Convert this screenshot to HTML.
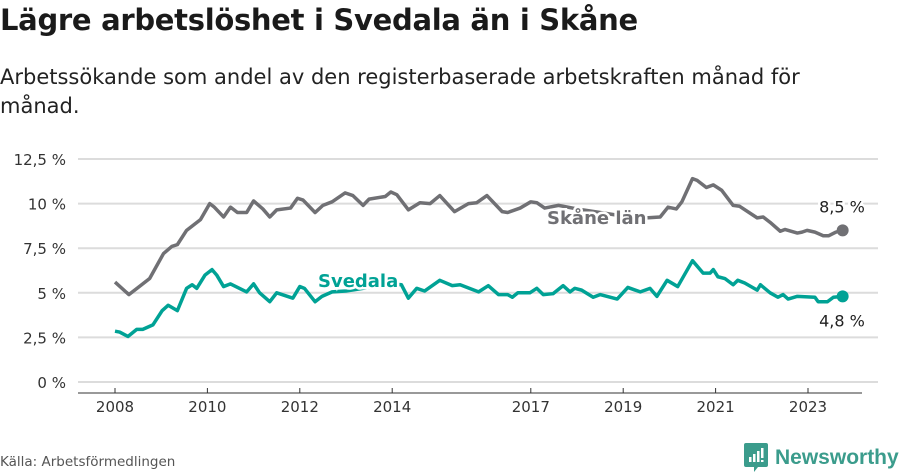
<!DOCTYPE html>
<html><head><meta charset="utf-8"><style>
body{margin:0;width:900px;height:474px;background:#fff;font-family:"DejaVu Sans","Liberation Sans",sans-serif;overflow:hidden;position:relative}
h1{position:absolute;left:0;top:3px;margin:0;font-size:29px;font-weight:bold;color:#1a1a1a;letter-spacing:-0.3px}
.sub{position:absolute;left:0;top:63px;font-size:21px;line-height:29px;color:#222;width:840px}
.src{position:absolute;left:0;top:454px;font-size:13.5px;color:#555}
.logo{position:absolute;left:744px;top:443px;display:flex;align-items:center;color:#3b9c8c;font-size:21px;font-weight:bold;font-family:"Liberation Sans",sans-serif}
svg{position:absolute;left:0;top:0}
</style></head><body>
<h1>Lägre arbetslöshet i Svedala än i Skåne</h1>
<div class="sub">Arbetssökande som andel av den registerbaserade arbetskraften månad för månad.</div>
<svg id="chart" width="900" height="474" font-family="DejaVu Sans, Liberation Sans, sans-serif"></svg>
<div class="src">Källa: Arbetsförmedlingen</div>
<div class="logo">
<svg style="position:static;margin-right:7px" width="24" height="30" viewBox="0 0 24 30"><path d="M2 0h20a2 2 0 0 1 2 2v20a2 2 0 0 1-2 2h-8l-4 5v-5H2a2 2 0 0 1-2-2V2a2 2 0 0 1 2-2z" fill="#3b9c8c"/><rect x="5" y="14" width="2.5" height="5" fill="#fff"/><rect x="9" y="11" width="2.5" height="8" fill="#fff"/><rect x="13" y="8" width="2.5" height="11" fill="#fff"/><rect x="17" y="5" width="2.5" height="10" fill="#fff"/><rect x="17" y="17" width="2.5" height="2" fill="#fff"/></svg>
<span>Newsworthy</span></div>
<script>
const yTicks=[0,2.5,5,7.5,10,12.5];
const yTickLabels=["0 %","2,5 %","5 %","7,5 %","10 %","12,5 %"];
const xTicks=[2008,2010,2012,2014,2017,2019,2021,2023];
const skaneDates=[2008.0,2008.3,2008.5,2008.75,2009.05,2009.23,2009.35,2009.55,2009.85,2010.05,2010.15,2010.35,2010.5,2010.65,2010.85,2011.0,2011.2,2011.35,2011.5,2011.8,2011.95,2012.07,2012.33,2012.5,2012.7,2012.98,2013.15,2013.37,2013.5,2013.85,2013.97,2014.1,2014.35,2014.6,2014.82,2015.03,2015.35,2015.65,2015.83,2016.05,2016.38,2016.5,2016.77,2017.0,2017.13,2017.3,2017.6,2018.0,2018.5,2019.0,2019.5,2019.8,2019.97,2020.15,2020.27,2020.5,2020.6,2020.8,2020.95,2021.13,2021.38,2021.52,2021.9,2022.03,2022.18,2022.4,2022.5,2022.77,2022.87,2022.98,2023.15,2023.33,2023.45,2023.6,2023.75];
const skaneValues=[5.6,4.9,5.3,5.8,7.2,7.6,7.7,8.5,9.1,10.0,9.8,9.25,9.8,9.5,9.5,10.15,9.7,9.25,9.65,9.75,10.3,10.2,9.5,9.9,10.1,10.6,10.45,9.9,10.25,10.4,10.65,10.5,9.65,10.05,10.0,10.45,9.55,10.0,10.05,10.45,9.55,9.5,9.75,10.1,10.05,9.75,9.9,9.7,9.5,9.3,9.2,9.25,9.8,9.7,10.1,11.4,11.3,10.9,11.05,10.75,9.9,9.85,9.2,9.25,8.95,8.45,8.55,8.35,8.4,8.5,8.4,8.2,8.2,8.4,8.5];
const svedalaDates=[2008.0,2008.1,2008.28,2008.47,2008.6,2008.82,2009.02,2009.15,2009.35,2009.55,2009.67,2009.77,2009.95,2010.1,2010.2,2010.35,2010.5,2010.85,2011.0,2011.13,2011.35,2011.5,2011.85,2012.0,2012.1,2012.33,2012.48,2012.7,2013.0,2013.5,2014.0,2014.2,2014.35,2014.53,2014.7,2015.03,2015.3,2015.47,2015.87,2016.08,2016.3,2016.5,2016.6,2016.72,2016.98,2017.13,2017.27,2017.48,2017.7,2017.85,2017.95,2018.1,2018.35,2018.5,2018.87,2019.1,2019.37,2019.58,2019.73,2019.95,2020.18,2020.5,2020.73,2020.88,2020.95,2021.05,2021.2,2021.38,2021.48,2021.63,2021.9,2021.97,2022.18,2022.35,2022.46,2022.57,2022.77,2023.15,2023.22,2023.42,2023.55,2023.75];
const svedalaValues=[2.85,2.8,2.55,2.95,2.95,3.2,4.0,4.3,4.0,5.25,5.45,5.25,6.0,6.3,6.0,5.35,5.5,5.05,5.5,5.0,4.5,5.0,4.7,5.35,5.25,4.5,4.8,5.05,5.1,5.3,5.5,5.45,4.7,5.25,5.1,5.7,5.4,5.45,5.05,5.4,4.9,4.9,4.75,5.0,5.0,5.25,4.9,4.95,5.4,5.05,5.25,5.15,4.75,4.9,4.65,5.3,5.05,5.25,4.8,5.7,5.35,6.8,6.1,6.1,6.3,5.9,5.8,5.45,5.7,5.55,5.15,5.45,5.0,4.75,4.9,4.65,4.8,4.75,4.5,4.5,4.75,4.8];
const NS="http://www.w3.org/2000/svg",svg=document.getElementById('chart');
const X=t=>115+(t-2008)*46.2, Y=v=>382-v*17.84;
function mk(tag,attrs,parent){const e=document.createElementNS(NS,tag);for(const k in attrs)e.setAttribute(k,attrs[k]);(parent||svg).appendChild(e);return e;}
yTicks.forEach((v,i)=>{
 const g=mk('line',{x1:78,x2:878,y1:Y(v),y2:Y(v),stroke:'#dcdcdc','stroke-width':2});
 
 
 const t=mk('text',{x:66,y:Y(v)+6,'text-anchor':'end','font-size':15,fill:'#333'});t.textContent=yTickLabels[i];
 
 
});
const ax=mk('line',{x1:78,x2:862,y1:393,y2:393,stroke:'#333','stroke-width':1});


xTicks.forEach(yr=>{
 const tk=mk('line',{x1:X(yr),x2:X(yr),y1:388,y2:393,stroke:'#333'});
 
 
 const t=mk('text',{x:X(yr),y:412,'text-anchor':'middle','font-size':15,fill:'#333'});t.textContent=yr;
 
 
});
function line(d,v,col,name){
 const p=mk('polyline',{points:d.map((t,i)=>X(t)+','+Y(v[i])).join(' '),fill:'none',stroke:col,'stroke-width':3.5,'stroke-linejoin':'round'});
 
 
 const n=d.length-1;
 const c=mk('circle',{cx:X(d[n]),cy:Y(v[n]),r:6,fill:col});
 
 
}
line(skaneDates,skaneValues,'#707074','skane');
line(svedalaDates,svedalaValues,'#00a295','svedala');
function lab(x,y,txt,col,name,bold,anchor){
 const t=mk('text',{x:x,y:y,fill:col,'font-size':bold?18:16,'font-weight':bold?'bold':'normal',stroke:'#fff','stroke-width':5,'paint-order':'stroke','text-anchor':anchor||'start'});t.textContent=txt;
 
 
}
lab(318,287,'Svedala','#00a295','svedala-label',true);
lab(547,224,'Skåne län','#707074','skane-label',true);
const n1=skaneDates.length-1,n2=svedalaDates.length-1;
lab(842,Y(skaneValues[n1])-18,'8,5 %','#222','skane-end-value',false,'middle');
lab(842,Y(svedalaValues[n2])+30,'4,8 %','#222','svedala-end-value',false,'middle');
</script>
</body></html>
